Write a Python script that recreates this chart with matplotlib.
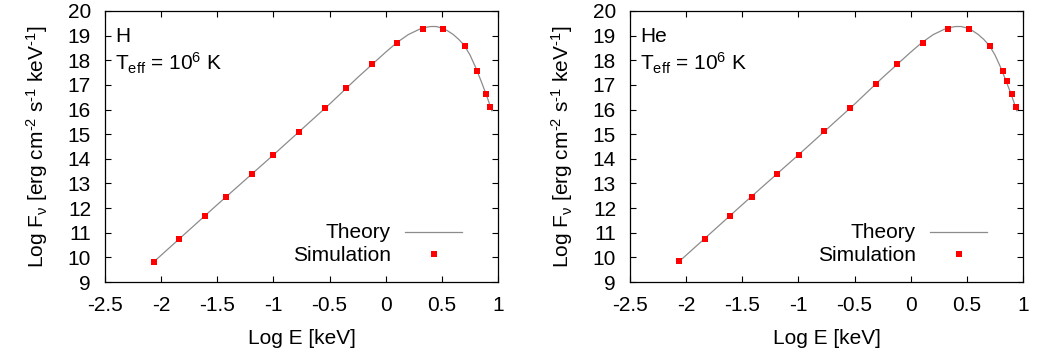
import matplotlib
matplotlib.use("Agg")
import matplotlib.pyplot as plt
from matplotlib.lines import Line2D

plt.rcParams['font.family'] = ['Liberation Sans', 'DejaVu Sans']
plt.rcParams['mathtext.fontset'] = 'custom'
plt.rcParams['mathtext.rm'] = 'Liberation Sans'
plt.rcParams['mathtext.it'] = 'Liberation Sans'
plt.rcParams['mathtext.bf'] = 'Liberation Sans'
plt.rcParams['axes.unicode_minus'] = False

# ---- data ----
panel_labels = ["H", "He"]

theory_x = [-2.07, -1.5, -1.0, -0.5, -0.25, 0.0, 0.1, 0.2, 0.3, 0.35, 0.4,
            0.45, 0.5, 0.55, 0.6, 0.65, 0.7, 0.75, 0.8, 0.85, 0.9, 0.945]
theory_y = [9.80, 12.14, 14.16, 16.22, 17.30, 18.33, 18.72, 19.04, 19.26, 19.33, 19.37,
            19.37, 19.31, 19.20, 19.05, 18.85, 18.60, 18.22, 17.72, 17.15, 16.55, 15.95]

sim_h_x = [-2.065, -1.840, -1.609, -1.422, -1.191, -1.005, -0.774, -0.543, -0.356,
           -0.125, 0.097, 0.328, 0.514, 0.710, 0.817, 0.897, 0.932]
sim_h_y = [9.81, 10.74, 11.67, 12.44, 13.37, 14.14, 15.07, 16.05, 16.87,
           17.83, 18.72, 19.28, 19.28, 18.56, 17.58, 16.65, 16.09]

sim_he_x = [-2.062, -1.831, -1.609, -1.413, -1.191, -0.996, -0.774, -0.543, -0.312,
            -0.125, 0.106, 0.328, 0.523, 0.710, 0.825, 0.861, 0.905, 0.941]
sim_he_y = [9.85, 10.74, 11.67, 12.44, 13.37, 14.14, 15.11, 16.05, 17.02,
            17.83, 18.72, 19.28, 19.28, 18.56, 17.58, 17.14, 16.65, 16.09]

x_ticks = [-2.5, -2, -1.5, -1, -0.5, 0, 0.5, 1]
x_tick_labels = ["-2.5", "-2", "-1.5", "-1", "-0.5", "0", "0.5", "1"]
y_ticks = list(range(9, 21))

sims = [(sim_h_x, sim_h_y), (sim_he_x, sim_he_y)]

FS = 15
fig = plt.figure(figsize=(10.42, 3.58), dpi=100)
axes_rects = [
    [105 / 1042, 1 - 282 / 358, 393 / 1042, 271 / 358],
    [630 / 1042, 1 - 282 / 358, 393 / 1042, 271 / 358],
]

HY = '\u2010'  # hyphen, as in the reference superscripts
ylab = (r'Log F$_{ν}$ [erg cm$^{' + HY + r'2}$ s$^{' + HY + r'1}$ keV$^{' + HY + r'1}$]')

line_color = '#8c8c8c'
for i, rect in enumerate(axes_rects):
    ax = fig.add_axes(rect)
    sx, sy = sims[i]
    ax.plot(theory_x, theory_y, color=line_color, lw=0.9, zorder=2)
    ax.plot(sx, sy, ls='none', marker='s', ms=3.8, color='#ff0000',
            markeredgewidth=0, zorder=3)
    ax.set_xlim(-2.5, 1)
    ax.set_ylim(9, 20)
    ax.set_xticks(x_ticks)
    ax.set_xticklabels(x_tick_labels)
    ax.set_yticks(y_ticks)
    ax.tick_params(direction='in', top=True, right=True, length=4.5, width=0.8,
                   labelsize=FS)
    ax.tick_params(axis='x', pad=10)
    ax.tick_params(axis='y', pad=10)
    for s in ax.spines.values():
        s.set_linewidth(0.9)
    ax.set_xlabel('Log E [keV]', fontsize=FS, labelpad=10)
    ax.set_ylabel(ylab, fontsize=FS, labelpad=13)
    ax.text(0.025, 0.886, panel_labels[i], transform=ax.transAxes, fontsize=FS)
    ax.text(0.025, 0.779, r'T$_{\mathregular{eff}}$ = 10$^{6}$ K',
            transform=ax.transAxes, fontsize=FS)
    # legend drawn gnuplot-style
    ax.text(0.728, 0.1635, 'Theory', transform=ax.transAxes, fontsize=FS, ha='right')
    ax.text(0.728, 0.0775, 'Simulation', transform=ax.transAxes, fontsize=FS, ha='right')
    ax.add_line(Line2D([0.764, 0.909], [0.186, 0.186], transform=ax.transAxes,
                       color=line_color, lw=0.9))
    ax.add_line(Line2D([0.836], [0.103], transform=ax.transAxes, ls='none',
                       marker='s', ms=3.8, color='#ff0000', markeredgewidth=0))

fig.savefig('out.png', dpi=100)
